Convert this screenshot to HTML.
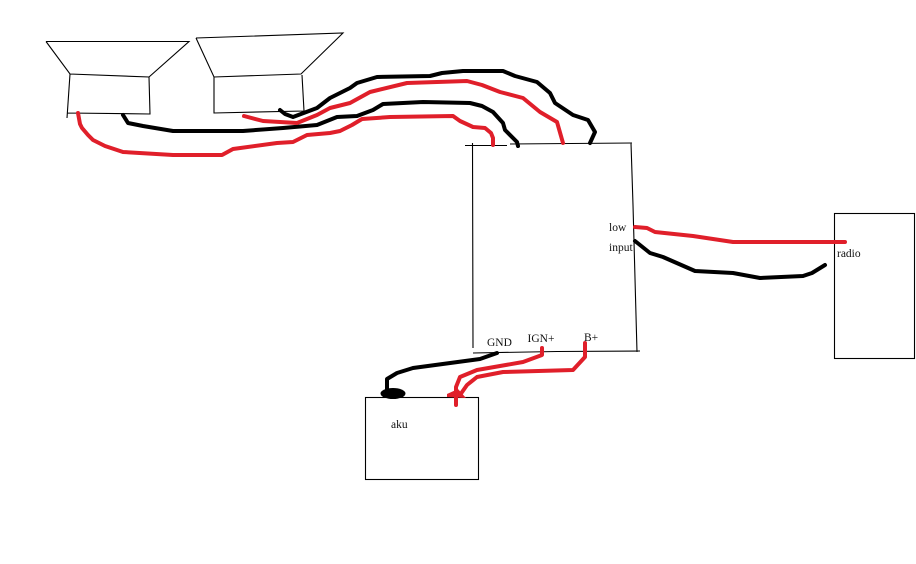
<!DOCTYPE html>
<html>
<head>
<meta charset="utf-8">
<style>
html,body{margin:0;padding:0;background:#fff;width:916px;height:564px;overflow:hidden}
svg{display:block}
text{font-family:"Liberation Serif",serif;font-size:11.5px;fill:#111}
.t{fill:none;stroke:#000;stroke-width:1.1}
.r,.b{fill:none;stroke-width:4;stroke-linecap:round;stroke-linejoin:round}
.r{stroke:#e01f2a}
.b{stroke:#000}
</style>
</head>
<body>
<svg width="916" height="564" viewBox="0 0 916 564" xmlns="http://www.w3.org/2000/svg">
<!-- speaker 1 -->
<path class="t" d="M46 41.5H189L149 77M46 41.5L70 74L149 77L150 114L67 113M70 74L67 118"/>
<!-- speaker 2 -->
<path class="t" d="M196 38L343 33L301 74L214 77L196 38M214 77V113L304 111L302 75"/>
<!-- main box -->
<path class="t" d="M465 145.500H507M510 144L632 143M472.500 143L473 348M631 143L633 205L637 352M473 353L557 351.500L640 351"/>
<!-- battery and radio -->
<rect class="t" x="365.500" y="397.500" width="113" height="82"/>
<rect class="t" x="834.500" y="213.500" width="80" height="145"/>
<!-- speaker wires -->
<polyline class="r" points="78,113 80,124 82,128 88,135 93,140 105,146 123,152 173,155 222,155 233,149 277,143 293,142 307,135 330,133 340,131 352,125 362,119 390,117 453,116 460,121 473,127 485,128 491,133 493,138 493,145"/>
<polyline class="b" points="123,115 128,123 143,126 173,131 243,131 283,128 317,125 337,117 357,116 373,110 383,104 423,102 470,103 482,106 493,112 503,123 505,130 517,142 518,146"/>
<polyline class="r" points="244,116 263,121 297,123 317,115 330,108 350,103 370,92 407,83 467,81 482,85 500,92 523,98 540,112 557,122 563,143"/>
<polyline class="b" points="280,110 285,114 293,117 317,108 330,98 350,88 357,83 377,77 430,76 442,73 463,71 503,71 515,76 537,82 550,93 555,103 573,115 588,120 595,132 590,143"/>
<!-- radio wires -->
<polyline class="r" points="635,227 647,228 655,232 693,236 733,242 845,242"/>
<polyline class="b" points="635,241 650,253 663,257 695,271 733,273 760,278 803,276 812,273 825,265"/>
<!-- battery wires -->
<polyline class="b" points="497,353 480,359 413,368 397,373 387,379 387,390"/>
<ellipse cx="393" cy="393.500" rx="12.500" ry="5.500" fill="#000"/>
<polyline class="r" points="542,348 542,355 523,362 477,370 460,377 456,387 456,405"/>
<polyline class="r" points="585,343 585,357 573,370 503,372 477,377 467,385 460,395"/>
<polygon points="447,394 458,389 466,398 447,397" fill="#e01f2a"/>
<!-- labels -->
<text x="487" y="346">GND</text>
<text x="527.500" y="342">IGN+</text>
<text x="584" y="341">B+</text>
<text x="391" y="428">aku</text>
<text x="609" y="231">low</text>
<text x="609" y="251">input</text>
<text x="837" y="257">radio</text>
</svg>
</body>
</html>
